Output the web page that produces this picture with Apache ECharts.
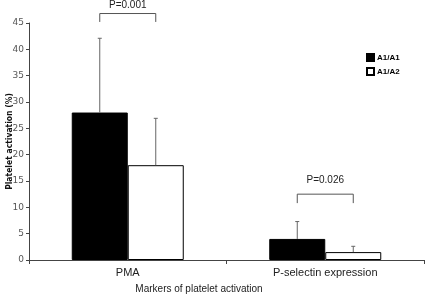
<!DOCTYPE html>
<html>
<head>
<meta charset="utf-8">
<script src="https://cdn.jsdelivr.net/npm/echarts@6/dist/echarts.min.js"></script>
<style>
  html, body { margin: 0; padding: 0; background: #fff; }
  #main { width: 425px; height: 295px; }
</style>
</head>
<body>
<div id="main"></div>
<script>
// data
var categories = ["PMA", "P-selectin expression"];
var seriesNames = ["A1/A1", "A1/A2"];
var meanA1A1 = [28, 4];
var meanA1A2 = [18, 1.5];
var upperA1A1 = [42.1, 7.3];   // mean + SD (top of error bar)
var upperA1A2 = [26.9, 2.6];
// brackets: [category index, top value, leg-bottom value, label value]
var pLabels = ["P=0.001", "P=0.026"];
var bracketTop = [46.8, 12.5];
var bracketLeg = [45.2, 10.8];
var labelPos = [48.4, 15.2];

var BAR_W = 56;

var chart = echarts.init(document.getElementById("main"));

function errorItem(offset) {
  return function (params, api) {
    var base = api.coord([api.value(0), api.value(1)]);
    var top = api.coord([api.value(0), api.value(2)]);
    var x = base[0] + offset;
    return {
      type: "group",
      children: [
        { type: "line", shape: { x1: x, y1: base[1], x2: x, y2: top[1] }, style: { stroke: "#666", lineWidth: 1 } },
        { type: "line", shape: { x1: x - 2, y1: top[1], x2: x + 2, y2: top[1] }, style: { stroke: "#666", lineWidth: 1 } }
      ]
    };
  };
}

function bracketItem(params, api) {
  var t = api.coord([api.value(0), api.value(1)]);
  var b = api.coord([api.value(0), api.value(2)]);
  var l = api.coord([api.value(0), api.value(3)]);
  var x1 = t[0] - BAR_W / 2, x2 = t[0] + BAR_W / 2;
  return {
    type: "group",
    children: [
      { type: "polyline", shape: { points: [[x1, b[1]], [x1, t[1]], [x2, t[1]], [x2, b[1]]] }, style: { stroke: "#555", lineWidth: 1, fill: null } },
      { type: "text", x: t[0], y: l[1], style: { text: pLabels[params.dataIndex], font: "10px 'Liberation Sans', Arial", fill: "#222", align: "center", verticalAlign: "middle" } }
    ]
  };
}

var option = {
  animation: false,
  backgroundColor: "#fff",
  grid: { left: 29, right: 1, top: 23, bottom: 35, containLabel: false, outerBoundsMode: "none" },
  legend: {
    data: seriesNames,
    orient: "vertical",
    left: 361, top: 48,
    itemWidth: 7, itemHeight: 7, itemGap: 5,
    icon: "rect",
    textStyle: { fontSize: 8, fontWeight: "bold", fontFamily: "'Liberation Sans', Arial", color: "#000", padding: [0, 0, 0, -2] }
  },
  xAxis: {
    type: "category",
    data: categories,
    axisLine: { lineStyle: { color: "#444" } },
    axisTick: { show: true, length: 4, lineStyle: { color: "#444" } },
    axisLabel: { fontSize: 11, color: "#222", fontFamily: "'Liberation Sans', Arial", margin: 7 },
    name: "Markers of platelet activation",
    nameLocation: "middle",
    nameGap: 24,
    nameMoveOverlap: false,
    nameTextStyle: { fontSize: 10, color: "#222", fontFamily: "'Liberation Sans', Arial", padding: [0, 55, 0, 0] }
  },
  yAxis: {
    type: "value",
    min: 0, max: 45, interval: 5,
    splitLine: { show: false },
    axisLine: { show: true, lineStyle: { color: "#444" } },
    axisTick: { show: true, length: 3, lineStyle: { color: "#444" } },
    axisLabel: { fontSize: 9, color: "#555", fontFamily: "'DejaVu Sans', Verdana", margin: 5 },
    name: "Platelet activation (%)",
    nameLocation: "middle",
    nameGap: 15,
    nameMoveOverlap: false,
    nameTextStyle: { fontSize: 8.5, fontWeight: "bold", color: "#111", fontFamily: "'DejaVu Sans Condensed', 'DejaVu Sans', Verdana" }
  },
  series: [
    {
      name: seriesNames[0], type: "bar", data: meanA1A1, barWidth: BAR_W, barGap: "0%",
      itemStyle: { color: "#000", borderColor: "#000", borderWidth: 1 }
    },
    {
      name: seriesNames[1], type: "bar", data: meanA1A2, barWidth: BAR_W, barGap: "0%",
      itemStyle: { color: "#fff", borderColor: "#000", borderWidth: 1 }
    },
    {
      type: "custom", renderItem: errorItem(-BAR_W / 2), z: 5, silent: true,
      data: categories.map(function (c, i) { return [i, meanA1A1[i], upperA1A1[i]]; })
    },
    {
      type: "custom", renderItem: errorItem(BAR_W / 2), z: 5, silent: true,
      data: categories.map(function (c, i) { return [i, meanA1A2[i], upperA1A2[i]]; })
    },
    {
      type: "custom", renderItem: bracketItem, clip: false, z: 5, silent: true,
      data: categories.map(function (c, i) { return [i, bracketTop[i], bracketLeg[i], labelPos[i]]; })
    }
  ]
};

chart.setOption(option);
</script>
</body>
</html>
